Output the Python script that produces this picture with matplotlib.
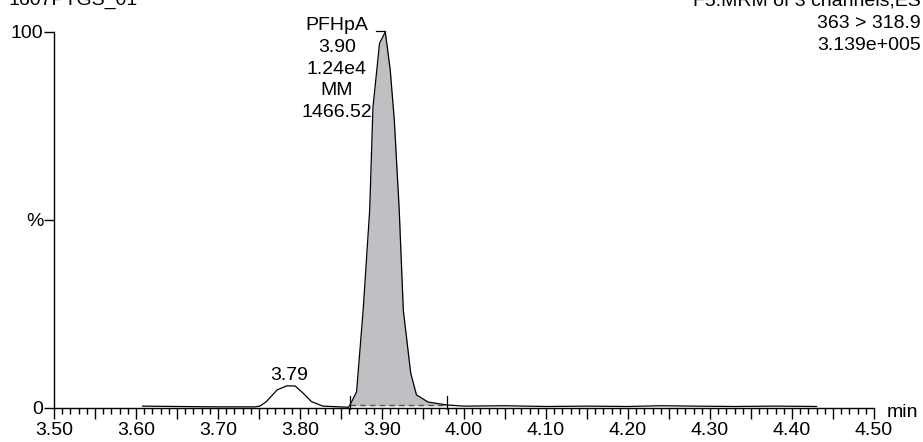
import numpy as np
import matplotlib
matplotlib.use("Agg")
import matplotlib.pyplot as plt
from matplotlib.ticker import MultipleLocator, FixedLocator

plt.rcParams['font.family'] = ['Liberation Sans', 'DejaVu Sans']

# 色谱数据 (时间 min, 相对强度 %)
rt = [3.608, 3.65, 3.70, 3.745, 3.751, 3.759, 3.772, 3.784, 3.794, 3.804, 3.814,
      3.828, 3.859, 3.861, 3.869, 3.877, 3.885, 3.889, 3.897, 3.904, 3.910, 3.915,
      3.921, 3.926, 3.935, 3.942, 3.956, 3.979, 4.00, 4.05, 4.10, 4.15, 4.20, 4.24,
      4.28, 4.33, 4.38, 4.43]
intensity = [0.5, 0.4, 0.3, 0.3, 0.5, 1.7, 4.8, 5.9, 5.85, 3.9, 1.7,
             0.5, 0.2, 0.8, 4.3, 26.0, 52.7, 80.0, 97.0, 100.0, 90.0, 76.6,
             52.7, 26.0, 9.3, 3.5, 1.6, 0.8, 0.5, 0.6, 0.4, 0.5, 0.4, 0.6,
             0.5, 0.4, 0.5, 0.4]

# 积分峰
peak_start, peak_end = 3.861, 3.979
peak_label = "PFHpA\n3.90\n1.24e4\nMM\n1466.52"
minor_peak_rt, minor_peak_label = 3.787, "3.79"

header_left = "1607PTGS_01"
header_right = ["F5:MRM of 3 channels,ES", "363 > 318.9", "3.139e+005"]

fs = 14
fig = plt.figure(figsize=(9.23, 4.42), dpi=100)
ax = fig.add_axes([54 / 923, 34 / 442, 820 / 923, 376 / 442])

rt_a = np.array(rt)
it_a = np.array(intensity)
mask = (rt_a >= peak_start) & (rt_a <= peak_end)
ax.fill_between(rt_a[mask], it_a[mask], 0.6, color='#bfc0c4', lw=0, clip_on=False)
ax.plot(rt, intensity, color='black', lw=0.9, clip_on=False)
ax.plot([peak_start, peak_end], [0.8, 0.8], color='#555555', lw=1.0, ls=(0, (4, 3)), clip_on=False)
for t in (peak_start, peak_end):
    ax.plot([t, t], [-0.35, 3.2], color='black', lw=0.9, clip_on=False)

# 峰标注
ax.plot([3.893, 3.904], [100.3, 100.3], color='black', lw=0.9, clip_on=False)
ax.text(3.845, 77.4, peak_label, ha='center', va='baseline', fontsize=fs,
        linespacing=1.36, multialignment='center')
ax.text(minor_peak_rt, 7.4, minor_peak_label, ha='center', va='baseline', fontsize=fs)
ax.text(4.516, -2.3, "min", ha='left', va='baseline', fontsize=fs, clip_on=False)

ax.set_xlim(3.5, 4.5)
ax.set_ylim(0, 100)
ax.spines['top'].set_visible(False)
ax.spines['right'].set_visible(False)
for s in ('left', 'bottom'):
    ax.spines[s].set_linewidth(1.0)

ax.xaxis.set_major_locator(MultipleLocator(0.05))
ax.xaxis.set_minor_locator(MultipleLocator(0.01))
ax.set_xticklabels([f"{v:.2f}" if round(v * 100) % 10 == 0 else "" for v in ax.get_xticks()])
ax.tick_params(axis='x', which='major', length=8, width=1.0, pad=2, labelsize=fs)
ax.tick_params(axis='x', which='minor', length=4.3, width=1.0)
ax.yaxis.set_major_locator(FixedLocator([0, 50, 100]))
ax.set_yticklabels(["0", "%", "100"])
ax.tick_params(axis='y', length=7, width=1.0, pad=0.5, labelsize=fs)

fig.text(8 / 923, 1 - 5 / 442, header_left, ha='left', va='baseline', fontsize=fs)
for i, line in enumerate(header_right):
    fig.text(921 / 923, 1 - (5 + 21.5 * i + (2 if i else 0)) / 442, line,
             ha='right', va='baseline', fontsize=fs)

fig.savefig("out.png", dpi=100)
